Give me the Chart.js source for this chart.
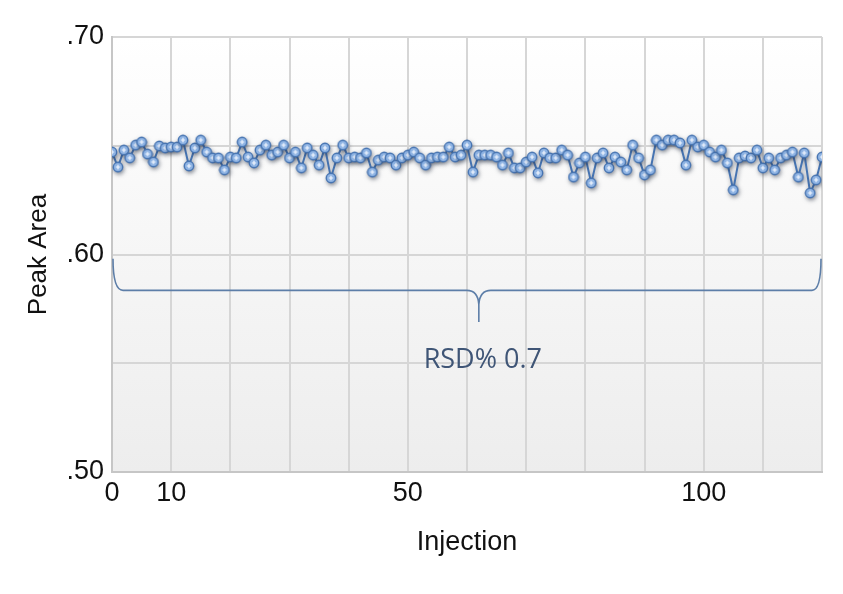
<!DOCTYPE html>
<html>
<head>
<meta charset="utf-8">
<title>Peak Area by Injection</title>
<script src="https://cdn.jsdelivr.net/npm/chart.js@4.4.1/dist/chart.umd.min.js"></script>
<style>
    html, body { margin: 0; padding: 0; background: #fff; }
    #wrap { width: 843px; height: 594px; }
</style>
</head>
<body>
<div id="wrap"><canvas id="chart" width="843" height="594"></canvas></div>
<script>
// Peak area for each injection (0..120)
const peakArea = [
    0.6471, 0.6402, 0.6480, 0.6444, 0.6503, 0.6517, 0.6462, 0.6425, 0.6499, 0.6490,
    0.6494, 0.6494, 0.6526, 0.6407, 0.6490, 0.6526, 0.6471, 0.6444, 0.6444, 0.6389,
    0.6448, 0.6444, 0.6517, 0.6448, 0.6421, 0.6480, 0.6503, 0.6457, 0.6471, 0.6503,
    0.6444, 0.6471, 0.6398, 0.6490, 0.6457, 0.6411, 0.6490, 0.6352, 0.6444, 0.6503,
    0.6444, 0.6448, 0.6444, 0.6467, 0.6379, 0.6434, 0.6448, 0.6444, 0.6411, 0.6444,
    0.6457, 0.6471, 0.6444, 0.6411, 0.6444, 0.6448, 0.6448, 0.6494, 0.6448, 0.6457,
    0.6503, 0.6379, 0.6457, 0.6457, 0.6457, 0.6448, 0.6411, 0.6467, 0.6398, 0.6398,
    0.6425, 0.6448, 0.6375, 0.6467, 0.6444, 0.6444, 0.6480, 0.6457, 0.6356, 0.6421,
    0.6448, 0.6329, 0.6444, 0.6467, 0.6398, 0.6448, 0.6425, 0.6389, 0.6503, 0.6444,
    0.6366, 0.6389, 0.6526, 0.6503, 0.6526, 0.6526, 0.6513, 0.6411, 0.6526, 0.6494,
    0.6503, 0.6471, 0.6448, 0.6480, 0.6421, 0.6297, 0.6444, 0.6453, 0.6444, 0.6480,
    0.6398, 0.6444, 0.6389, 0.6444, 0.6457, 0.6471, 0.6356, 0.6467, 0.6283, 0.6343,
    0.6448
];

const xTickLabels = [0, 10, 50, 100];
const yTickLabels = [0.50, 0.60, 0.70];

// brace annotation, in data units
const braceFrom = 0;
const braceTo = 120;
const braceMid = 62;
const braceTipY = 0.598;
const braceLineY = 0.5835;
const braceDipY = 0.569;
const rsdLabel = 'RSD% 0.7';
const rsdY = 0.5512;

// marker: blue dot with a white cross
function makeMarker() {
    const c = document.createElement('canvas');
    c.width = 12;
    c.height = 12;
    const g = c.getContext('2d');
    g.beginPath();
    g.arc(6, 6, 4.7, 0, Math.PI * 2);
    g.fillStyle = '#8fb4e4';
    g.fill();
    g.lineWidth = 1.4;
    g.strokeStyle = '#4674b2';
    g.stroke();
    g.beginPath();
    g.moveTo(6, 3.8); g.lineTo(6, 8.2);
    g.moveTo(3.8, 6); g.lineTo(8.2, 6);
    g.strokeStyle = '#f4f8ff';
    g.lineWidth = 1.2;
    g.stroke();
    return c;
}

const plotBackground = {
    id: 'plotBackground',
    beforeDraw(chart) {
        const { ctx, chartArea: a } = chart;
        const grad = ctx.createLinearGradient(0, a.top, 0, a.bottom);
        grad.addColorStop(0, '#ffffff');
        grad.addColorStop(1, '#ededed');
        ctx.save();
        ctx.fillStyle = grad;
        ctx.fillRect(a.left, a.top, a.right - a.left, a.bottom - a.top);
        ctx.restore();
    }
};

const dropShadow = {
    id: 'dropShadow',
    beforeDatasetsDraw(chart) {
        const ctx = chart.ctx;
        ctx.save();
        ctx.shadowColor = 'rgba(30, 40, 60, 0.5)';
        ctx.shadowBlur = 4;
        ctx.shadowOffsetX = 1;
        ctx.shadowOffsetY = 2;
    },
    afterDatasetsDraw(chart) {
        chart.ctx.restore();
    }
};

const brace = {
    id: 'brace',
    afterDraw(chart) {
        const { ctx } = chart;
        const xs = chart.scales.x;
        const ys = chart.scales.y;
        const x0 = xs.getPixelForValue(braceFrom) + 1;
        const x1 = xs.getPixelForValue(braceTo) - 1;
        const xm = xs.getPixelForValue(braceMid);
        const yTip = ys.getPixelForValue(braceTipY);
        const yLine = ys.getPixelForValue(braceLineY);
        const yDip = ys.getPixelForValue(braceDipY);
        const yFork = yLine + 14;

        ctx.save();
        ctx.strokeStyle = '#5d7ea8';
        ctx.lineWidth = 1.6;
        ctx.beginPath();
        ctx.moveTo(x0, yTip);
        ctx.quadraticCurveTo(x0, yLine, x0 + 10, yLine);
        ctx.lineTo(xm - 12, yLine);
        ctx.quadraticCurveTo(xm - 1, yLine, xm, yFork);
        ctx.lineTo(xm, yDip);
        ctx.moveTo(xm, yFork);
        ctx.quadraticCurveTo(xm + 1, yLine, xm + 12, yLine);
        ctx.lineTo(x1 - 9, yLine);
        ctx.quadraticCurveTo(x1, yLine, x1, yTip);
        ctx.stroke();

        ctx.fillStyle = '#3f5576';
        ctx.font = '27px "Open Sans", "DejaVu Sans", sans-serif';
        ctx.textAlign = 'center';
        ctx.textBaseline = 'middle';
        ctx.fillText(rsdLabel, xm + 4, ys.getPixelForValue(rsdY));
        ctx.restore();
    }
};

const near = (v, list) => list.some(t => Math.abs(t - v) < 1e-6);
const fontFamily = '"Liberation Sans", Arial, Helvetica, sans-serif';

new Chart(document.getElementById('chart'), {
    type: 'line',
    data: {
        datasets: [{
            label: 'Peak Area',
            data: peakArea.map((v, i) => ({ x: i, y: v })),
            borderColor: '#4674b2',
            borderWidth: 2,
            pointStyle: makeMarker(),
            pointRadius: 5,
            tension: 0
        }]
    },
    options: {
        responsive: false,
        animation: false,
        layout: { padding: { top: 37, right: 21, left: 0, bottom: 0 } },
        plugins: {
            legend: { display: false },
            tooltip: { enabled: false }
        },
        scales: {
            x: {
                type: 'linear',
                min: 0,
                max: 120,
                ticks: {
                    stepSize: 10,
                    autoSkip: false,
                    maxRotation: 0,
                    padding: 5,
                    color: '#111',
                    font: { family: fontFamily, size: 27 },
                    callback: v => near(v, xTickLabels) ? String(v) : ''
                },
                grid: { color: '#d6d6d6', lineWidth: 2, drawTicks: false },
                border: { color: '#c6c6c6', width: 2 },
                title: {
                    display: true,
                    text: 'Injection',
                    color: '#111',
                    font: { family: fontFamily, size: 27 },
                    padding: { top: 0, bottom: 35 }
                },
                afterFit(scale) {
                    scale.height = 122;
                    scale.paddingLeft = 0;
                    scale.paddingRight = 0;
                }
            },
            y: {
                min: 0.5,
                max: 0.7,
                ticks: {
                    stepSize: 0.05,
                    padding: 8,
                    color: '#111',
                    font: { family: fontFamily, size: 27 },
                    callback: v => near(v, yTickLabels) ? v.toFixed(2).replace(/^0/, '') : ''
                },
                grid: { color: '#d6d6d6', lineWidth: 2, drawTicks: false },
                border: { color: '#c6c6c6', width: 2 },
                title: {
                    display: true,
                    text: 'Peak Area',
                    color: '#111',
                    font: { family: fontFamily, size: 26 },
                    padding: { top: 23, bottom: 0 }
                },
                afterFit(scale) {
                    scale.width = 112;
                    scale.paddingTop = 0;
                    scale.paddingBottom = 0;
                }
            }
        }
    },
    plugins: [plotBackground, dropShadow, brace]
});
</script>
</body>
</html>
